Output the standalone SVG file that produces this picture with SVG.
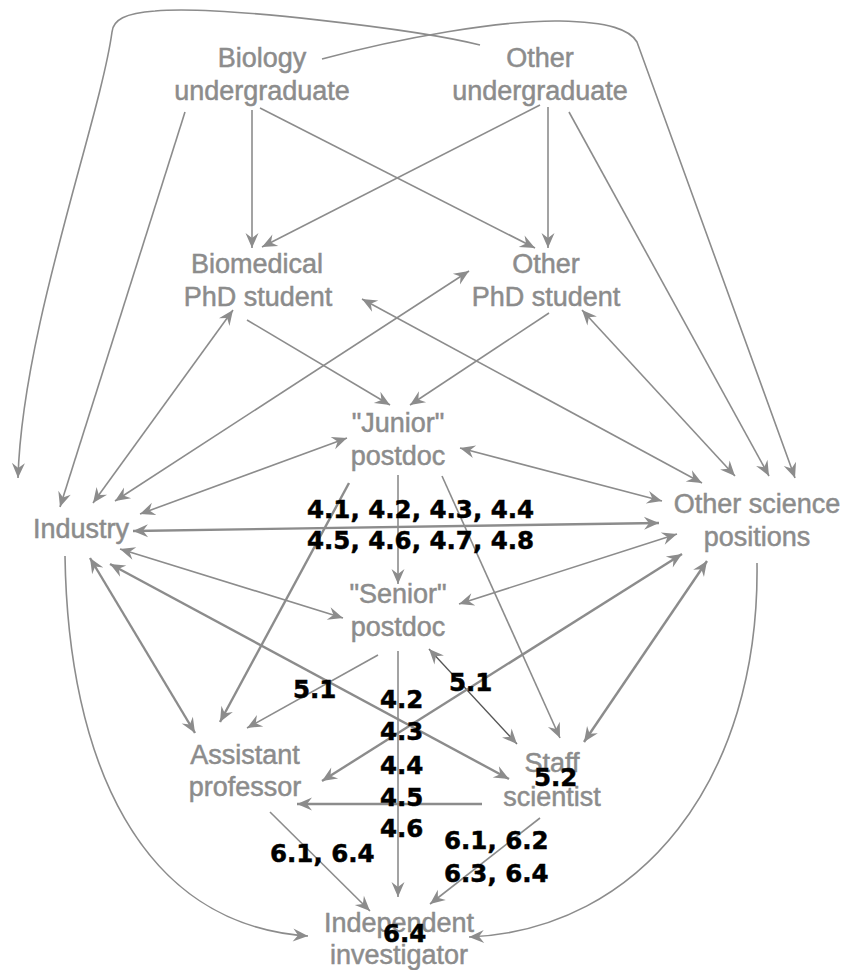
<svg xmlns="http://www.w3.org/2000/svg" width="844" height="970" viewBox="0 0 844 970">
<style>
.n{font-family:"Liberation Sans",Arial,sans-serif;font-size:27px;fill:#8c8c8c;stroke:#8c8c8c;stroke-width:0.5;text-anchor:middle}
.l{font-family:"DejaVu Sans",sans-serif;font-weight:bold;font-size:24.5px;fill:#000;stroke:#000;stroke-width:0.5}
.e{fill:none;stroke:#8c8c8c;stroke-width:1.6}
.t{stroke-width:2.4}
.d{stroke:#555;stroke-width:1.3}
.a{marker-end:url(#ah)}
.b{marker-start:url(#ah);marker-end:url(#ah)}
</style>
<defs>
<marker id="ah" markerUnits="userSpaceOnUse" viewBox="-16 -8 17 16" refX="0" refY="0" markerWidth="17" markerHeight="16" orient="auto-start-reverse">
<path d="M0,0 L-15,-6.5 L-10,0 L-15,6.5 Z" fill="#8c8c8c"/>
</marker>
</defs>
<rect width="844" height="970" fill="#fff"/>
<g id="connectors">
<path class="e a" d="M480,45 C420,30 220,5 155,11 C125,13 113,20 112,32 C100,120 22,330 18,478"/>
<path class="e a" d="M322,59 C400,38 500,20 560,21 C610,22 630,30 637,42 L795,478"/>
<path class="e a" d="M185,112 L60,507"/>
<path class="e a" d="M252,110 L252,248"/>
<path class="e a" d="M260,108 L535,248"/>
<path class="e a" d="M540,105 L262,247"/>
<path class="e a" d="M548,107 L548,248"/>
<path class="e a" d="M569,112 L769,476"/>
<path class="e b" d="M233,310 L93,503"/>
<path class="e b" d="M469,271 L115,501"/>
<path class="e a" d="M247,320 L390,405"/>
<path class="e a" d="M549,313 L410,405"/>
<path class="e b" d="M362,299 L702,483"/>
<path class="e b" d="M582,310 L735,476"/>
<path class="e b" d="M347,438 L140,514"/>
<path class="e b" d="M460,448 L662,501"/>
<path class="e t b" d="M133,531 L659,523"/>
<path class="e a" d="M398,475 L398,584"/>
<path class="e t a" d="M349,483 L220,722"/>
<path class="e a" d="M442,476 L560,738"/>
<path class="e b" d="M120,549 L343,618"/>
<path class="e b" d="M677,534 L459,604"/>
<path class="e t b" d="M90,558 L195,733"/>
<path class="e t b" d="M110,564 L509,779"/>
<path class="e a" d="M378,655 L247,728"/>
<path class="e d b" d="M429,649 L517,744"/>
<path class="e t b" d="M682,554 L322,781"/>
<path class="e t b" d="M707,561 L584,742"/>
<path class="e t a" d="M482,804 L297,804"/>
<path class="e a" d="M398,651 L398,897"/>
<path class="e a" d="M270,812 L370,911"/>
<path class="e a" d="M540,818 L430,904"/>
<path class="e a" d="M65,556 C68,760 140,925 308,936"/>
<path class="e a" d="M757,563 C760,780 640,930 469,937"/>
</g>
<g id="bio-ug"><text class="n" x="262" y="67">Biology</text><text class="n" x="262" y="100">undergraduate</text></g>
<g id="other-ug"><text class="n" x="540" y="67">Other</text><text class="n" x="540" y="100">undergraduate</text></g>
<g id="biomed-phd"><text class="n" x="257" y="273">Biomedical</text><text class="n" x="258" y="306">PhD student</text></g>
<g id="other-phd"><text class="n" x="546" y="273">Other</text><text class="n" x="546" y="306">PhD student</text></g>
<g id="junior"><text class="n" x="398" y="432">"Junior"</text><text class="n" x="398" y="465">postdoc</text></g>
<g id="industry"><text class="n" x="81" y="538">Industry</text></g>
<g id="other-sci"><text class="n" x="757" y="513">Other science</text><text class="n" x="757" y="546">positions</text></g>
<g id="senior"><text class="n" x="398" y="603">"Senior"</text><text class="n" x="398" y="636">postdoc</text></g>
<g id="asst-prof"><text class="n" x="245" y="764">Assistant</text><text class="n" x="245" y="796">professor</text></g>
<g id="staff"><text class="n" x="552" y="772">Staff</text><text class="n" x="552" y="806">scientist</text></g>
<g id="indep"><text class="n" x="399" y="932">Independent</text><text class="n" x="399" y="964">investigator</text></g>
<g id="labels">
<text class="l" x="307" y="518">4.1, 4.2, 4.3, 4.4</text>
<text class="l" x="307" y="549">4.5, 4.6, 4.7, 4.8</text>
<text class="l" x="293" y="698">5.1</text>
<text class="l" x="449" y="691">5.1</text>
<text class="l" x="380" y="708">4.2</text>
<text class="l" x="380" y="740">4.3</text>
<text class="l" x="380" y="774">4.4</text>
<text class="l" x="380" y="806">4.5</text>
<text class="l" x="380" y="837">4.6</text>
<text class="l" x="534" y="786">5.2</text>
<text class="l" x="444" y="849">6.1, 6.2</text>
<text class="l" x="444" y="882">6.3, 6.4</text>
<text class="l" x="270" y="862">6.1, 6.4</text>
<text class="l" x="383" y="942">6.4</text>
</g>
</svg>
